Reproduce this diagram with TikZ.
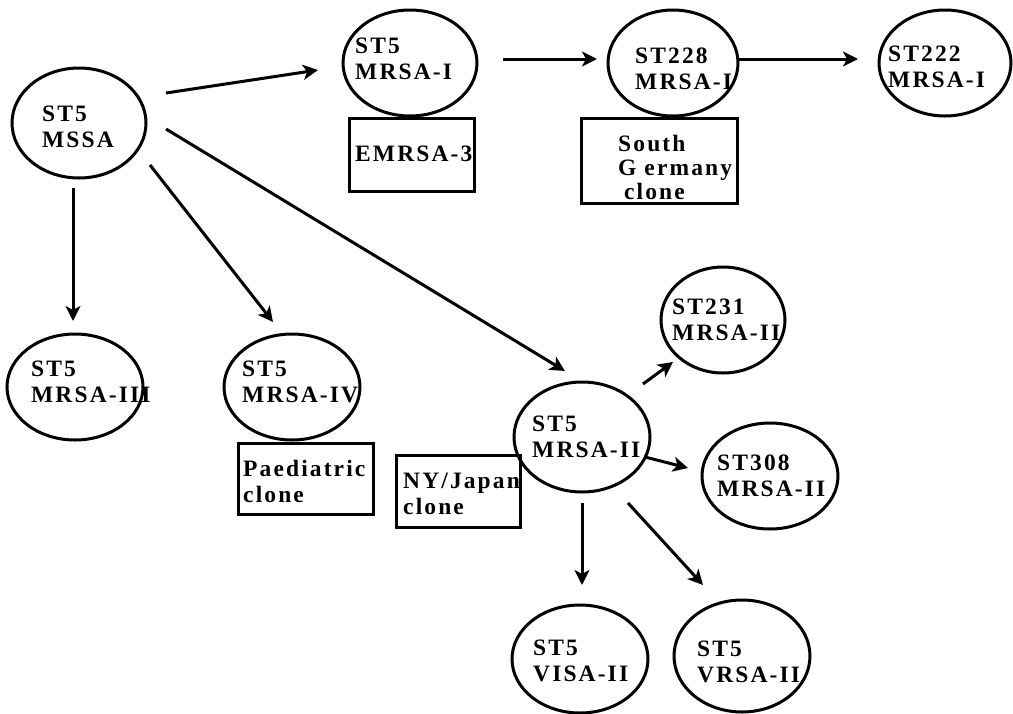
\documentclass[tikz,border=0pt]{standalone}
\usepackage{fontspec}
\newfontfamily\lblfont{Liberation Serif}[LetterSpace=9,BoldFont={Liberation Serif Bold}]
\usetikzlibrary{arrows.meta,shapes.geometric}
\newcommand\stack[1]{\begin{tabular}[t]{@{}l@{}}#1\end{tabular}}
\begin{document}
\begin{tikzpicture}[x=1pt,y=-1pt,
  oval/.style 2 args={draw, ellipse, line width=3pt, inner sep=0pt,
    minimum width=#1pt, minimum height=#2pt},
  box/.style 2 args={draw, rectangle, line width=3pt, inner sep=0pt,
    minimum width=#1pt, minimum height=#2pt},
  lbl/.style={anchor=base west, inner sep=0pt,
    font=\lblfont\bfseries\fontsize{23.5}{26.5}\selectfont},
  arr/.style={line width=3pt, -{Stealth[length=15pt,width=15pt,inset=4pt]}}]
\useasboundingbox (0,0) rectangle (1013,713);

% strain ovals
\node[oval={134}{110}] (mssa)  at (79,123)  {};
\node[oval={134}{106}] (mrsa1) at (410,63)  {};
\node[oval={130}{106}] (st228) at (673,63)  {};
\node[oval={132}{106}] (st222) at (945,63)  {};
\node[oval={136}{106}] (mrsa3) at (75,387)  {};
\node[oval={136}{106}] (mrsa4) at (292,387) {};
\node[oval={136}{110}] (mrsa2) at (582,437) {};
\node[oval={124}{106}] (st231) at (723,320) {};
\node[oval={136}{106}] (st308) at (770,476) {};
\node[oval={136}{108}] (visa)  at (580,659) {};
\node[oval={136}{112}] (vrsa)  at (742,656) {};

% clone boxes
\node[box={125}{73}] (emrsa) at (411.5,154.5) {};
\node[box={156}{85}] (sgc)   at (659,160.5)   {};
\node[box={135}{71}] (paed)  at (305.5,478.5) {};
\node[box={124}{72}] (nyj)   at (458,491)     {};

% oval labels
\node[lbl] (mssa-t)  at (42,121)  {\stack{ST5\\MSSA}};
\node[lbl] (mrsa1-t) at (355,53)  {\stack{ST5\\MRSA-I}};
\node[lbl] (st228-t) at (635,63)  {\stack{ST228\\MRSA-I}};
\node[lbl] (st222-t) at (888,61)  {\stack{ST222\\MRSA-I}};
\node[lbl] (mrsa3-t) at (31,376)  {\stack{ST5\\MRSA-III}};
\node[lbl] (mrsa4-t) at (242,376) {\stack{ST5\\MRSA-IV}};
\node[lbl] (mrsa2-t) at (532,431) {\stack{ST5\\MRSA-II}};
\node[lbl] (st231-t) at (672,314) {\stack{ST231\\MRSA-II}};
\node[lbl] (st308-t) at (717,470) {\stack{ST308\\MRSA-II}};
\node[lbl] (visa-t)  at (533,655) {\stack{ST5\\VISA-II}};
\node[lbl] (vrsa-t)  at (697,656) {\stack{ST5\\VRSA-II}};

% box labels
\node[lbl] (emrsa-t) at (355,161) {EMRSA-3};
\node[lbl] (sgc-t)   at (618,151) {\stack{South\\[-2.5pt]G ermany\\[-2.5pt]\hspace{6pt}clone}};
\node[lbl] (paed-t)  at (243,476) {\stack{Paediatric\\clone}};
\node[lbl] (nyj-t)   at (403,488) {\stack{NY/Japan\\clone}};

% lineage arrows
\draw[arr] ([shift={(87,-30)}]mssa.center) -- ([shift={(-92,7)}]mrsa1.center);
\draw[arr] ([shift={(87,6)}]mssa.center)   -- ([shift={(-17,-66)}]mrsa2.center);
\draw[arr] ([shift={(-6,65)}]mssa.center)  -- ([shift={(-2,-66)}]mrsa3.center);
\draw[arr] ([shift={(71,42)}]mssa.center)  -- ([shift={(-19,-65)}]mrsa4.center);
\draw[arr] ([shift={(93,-4)}]mrsa1.center) -- ([shift={(-76,-4)}]st228.center);
\draw[arr] ([shift={(65,-4)}]st228.center) -- ([shift={(-87,-4)}]st222.center);
\draw[arr] ([shift={(61,-53)}]mrsa2.center) -- ([shift={(-50,42)}]st231.center);
\draw[arr] ([shift={(63,20)}]mrsa2.center)  -- ([shift={(-82,-8)}]st308.center);
\draw[arr] ([shift={(0,66)}]mrsa2.center)   -- ([shift={(2,-74)}]visa.center);
\draw[arr] ([shift={(46,66)}]mrsa2.center)  -- ([shift={(-39,-71)}]vrsa.center);
\end{tikzpicture}
\end{document}
